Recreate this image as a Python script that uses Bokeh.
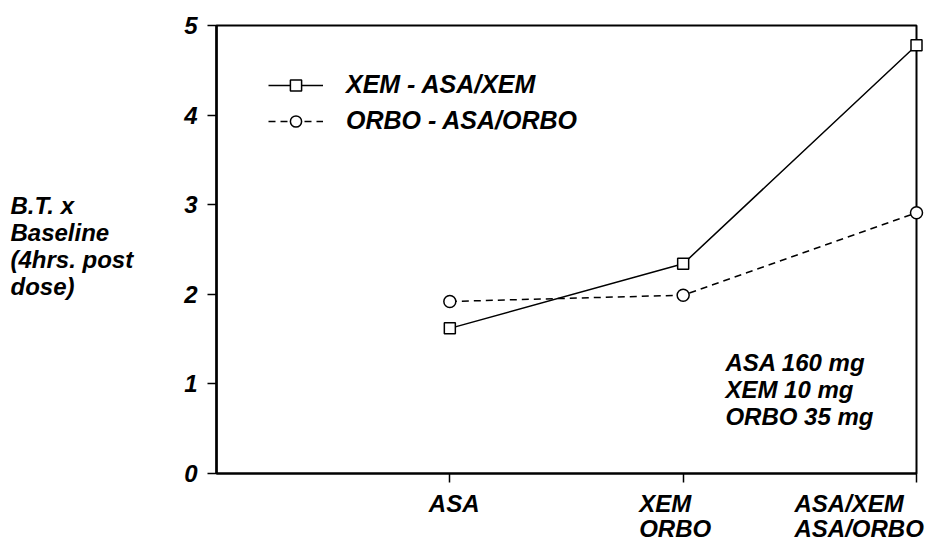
from bokeh.plotting import figure
from bokeh.models import (Range1d, FixedTicker, Legend, LegendItem, Label,
                          ColumnDataSource)
from bokeh.core.properties import value
from bokeh.embed import file_html
from bokeh.resources import INLINE

# ---- data ----
categories = ["ASA", "XEM\nORBO", "ASA/XEM\nASA/ORBO"]
cat_pos = [1, 2, 3]
xem_series = [1.62, 2.34, 4.78]
orbo_series = [1.92, 1.99, 2.91]
series_names = ["XEM - ASA/XEM", "ORBO - ASA/ORBO"]
y_ticks = [0, 1, 2, 3, 4, 5]
y_title = "B.T. x\nBaseline\n(4hrs. post\ndose)"
dose_note = "ASA 160 mg\nXEM  10 mg\nORBO  35 mg"

# ---- style / layout ----
FONT = "Liberation Sans"
FS = "24px"
label_shift_px = [-21, -44, -122]

p = figure(frame_width=700, frame_height=448,
           x_range=Range1d(0, 3), y_range=Range1d(0, 5),
           output_backend="svg", toolbar_location=None,
           min_border_left=216, min_border_right=12,
           min_border_top=25, min_border_bottom=69)
p.background_fill_color = "white"
p.border_fill_color = "white"
p.grid.visible = False
p.outline_line_color = "black"
p.outline_line_width = 2
p.outline_line_alpha = 1

# x axis: ticks only (labels drawn below as text)
p.xaxis.ticker = FixedTicker(ticks=cat_pos)
p.xaxis.major_label_overrides = {c: "" for c in cat_pos}
p.xaxis.axis_line_width = 2
p.xaxis.major_tick_out = 9
p.xaxis.major_tick_in = 0
p.xaxis.major_tick_line_width = 1.5
p.xaxis.minor_tick_line_color = None

# y axis
p.yaxis.ticker = FixedTicker(ticks=y_ticks)
p.yaxis.axis_line_width = 2.5
p.yaxis.major_tick_out = 9
p.yaxis.major_tick_in = 0
p.yaxis.major_tick_line_width = 1.5
p.yaxis.minor_tick_line_color = None
p.yaxis.major_label_standoff = 10
p.yaxis.major_label_text_font = FONT
p.yaxis.major_label_text_font_style = "bold italic"
p.yaxis.major_label_text_font_size = FS
p.yaxis.major_label_text_color = "black"

# series
r1 = p.line(cat_pos, xem_series, line_color="black", line_width=1.5)
s1 = p.scatter(cat_pos, xem_series, marker="square", size=11,
               fill_color="white", line_color="black", line_width=1.5,
               level="overlay")
r2 = p.line(cat_pos, orbo_series, line_color="black", line_width=1.5,
            line_dash="7 5")
s2 = p.scatter(cat_pos, orbo_series, marker="circle", size=12,
               fill_color="white", line_color="black", line_width=1.5,
               level="overlay")

legend = Legend(items=[LegendItem(label=series_names[0], renderers=[r1, s1]),
                       LegendItem(label=series_names[1], renderers=[r2, s2])],
                location=(52, 338), padding=0, margin=0,
                glyph_width=55, glyph_height=28, label_height=28,
                spacing=7, label_standoff=23,
                label_text_font=FONT, label_text_font_style="bold italic",
                label_text_font_size="25px", label_text_color="black",
                border_line_alpha=0, background_fill_alpha=0)
p.add_layout(legend)

# x category labels (text glyphs at the category positions)
src = ColumnDataSource(dict(x=cat_pos, y=[0] * len(cat_pos), text=categories,
                            dx=label_shift_px))
p.text(x="x", y="y", text="text", source=src, x_offset="dx", y_offset=16,
       text_align="left", text_baseline="top",
       text_font=value(FONT), text_font_style="bold italic",
       text_font_size=value(FS), text_color="black",
       text_line_height=0.93, level="overlay")

# y title (left of the axis)
p.text(x=[-0.883], y=[3.147], text=[y_title],
       text_align="left", text_baseline="top",
       text_font=value(FONT), text_font_style="bold italic",
       text_font_size=value(FS), text_color="black",
       text_line_height=1.0, level="overlay")

# dose note
p.add_layout(Label(x=2.181, y=1.384, text=dose_note,
                   text_align="left", text_baseline="top",
                   text_font=FONT, text_font_style="bold italic",
                   text_font_size=FS, text_color="black",
                   text_line_height=0.99))

open("out.html", "w").write(file_html(p, INLINE))
